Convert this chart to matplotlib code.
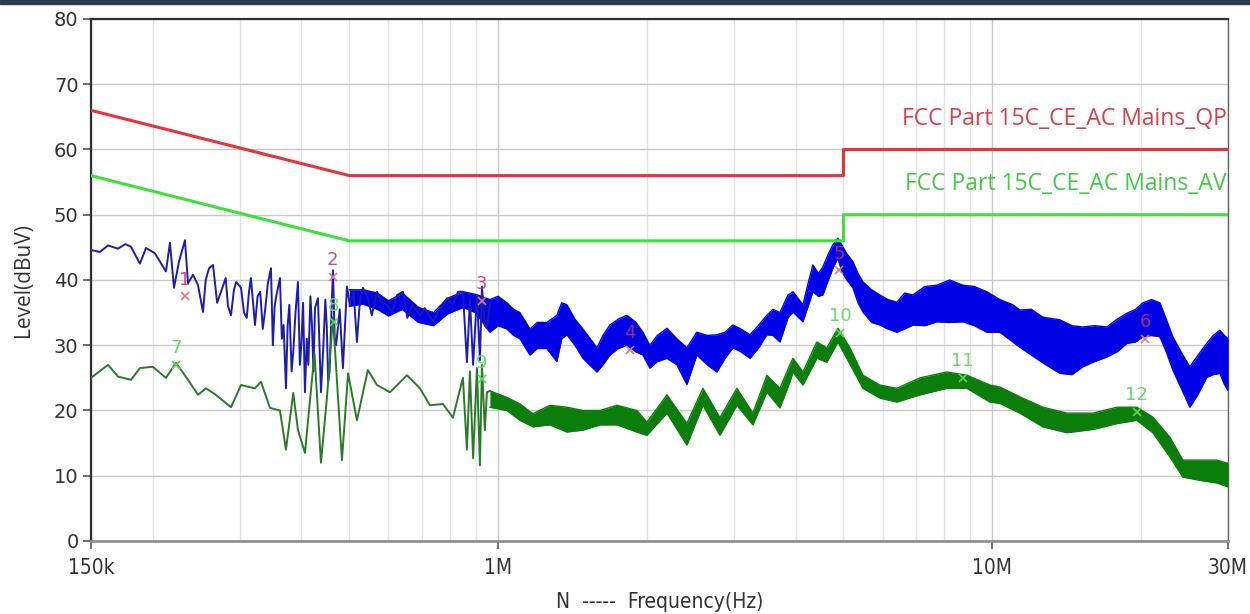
import matplotlib
matplotlib.use("Agg")
import matplotlib.pyplot as plt
from matplotlib.patches import Rectangle

# ---------------- data (frequency in MHz, level in dBuV) ----------------
# limit lines
qp_limit_freq = [0.15, 0.5, 5.0, 5.0, 30.0]
qp_limit_level = [66, 56, 56, 60, 60]
av_limit_freq = [0.15, 0.5, 5.0, 5.0, 30.0]
av_limit_level = [56, 46, 46, 50, 50]

# peak (blue) trace, low-frequency part (single line with spikes)
peak_line_freq = [0.150, 0.1564, 0.1624, 0.1701, 0.176, 0.1807, 0.1884, 0.1938, 0.2020, 0.2127,
                  0.2167, 0.2208, 0.226, 0.2324, 0.2357, 0.2413, 0.247, 0.2528, 0.256, 0.260,
                  0.2649, 0.270, 0.2749, 0.281, 0.284, 0.2880, 0.292, 0.295, 0.3018, 0.306,
                  0.310, 0.313, 0.316, 0.3221, 0.326, 0.330, 0.334, 0.338, 0.342, 0.3470,
                  0.350, 0.353, 0.356, 0.3618, 0.365, 0.368, 0.3721, 0.375, 0.378, 0.382,
                  0.385, 0.389, 0.3935, 0.397, 0.400, 0.403, 0.4065, 0.410, 0.413, 0.417,
                  0.420, 0.423, 0.426, 0.4319, 0.435, 0.4380, 0.443, 0.447, 0.450, 0.453,
                  0.456, 0.460, 0.4632, 0.467, 0.470, 0.478, 0.4852, 0.4944, 0.5014, 0.510,
                  0.5179, 0.525, 0.5326, 0.545, 0.555, 0.5687, 0.580, 0.5957, 0.610, 0.625,
                  0.6419, 0.655, 0.670, 0.6948, 0.710, 0.7381, 0.755, 0.7878, 0.8101, 0.830,
                  0.8487, 0.8647, 0.8769, 0.890, 0.906, 0.9188, 0.9274, 0.940, 0.9492, 0.9626]
peak_line_level = [44.6, 44.3, 45.3, 44.8, 45.5, 45.1, 42.5, 44.9, 44.1, 41.3,
                   45.7, 38.8, 42.8, 46.1, 39.5, 40.8, 39.2, 35.1, 40.0, 41.8,
                   42.3, 36.5, 38.2, 40.3, 36.0, 34.6, 38.5, 39.7, 38.8, 35.0,
                   34.2, 38.0, 40.3, 33.1, 37.5, 38.2, 32.5, 35.7, 39.5, 41.8,
                   30.0, 36.0, 37.7, 40.3, 31.0, 33.1, 23.4, 33.0, 36.2, 26.0,
                   29.0, 35.0, 39.7, 27.0, 30.5, 36.5, 22.8, 31.0, 27.0, 37.5,
                   33.1, 26.0, 35.7, 37.2, 30.0, 22.8, 30.0, 37.0, 33.0, 24.5,
                   26.0, 35.0, 41.5, 31.0, 30.0, 35.5, 26.5, 39.0, 36.0, 38.2,
                   30.5, 36.6, 38.8, 37.2, 34.6, 38.2, 36.6, 36.2, 35.1, 37.7,
                   38.2, 34.2, 36.2, 34.6, 35.7, 33.6, 35.1, 37.2, 36.2, 38.2,
                   38.2, 27.4, 37.0, 27.0, 37.7, 27.7, 39.0, 33.0, 32.6, 36.5]

# peak (blue) trace, dense part: upper / lower envelope
peak_band_freq = [0.50, 0.533, 0.57, 0.60, 0.64, 0.69, 0.74, 0.79, 0.85, 0.90,
                  0.9626, 1.00, 1.042, 1.075, 1.107, 1.160, 1.200, 1.255, 1.315, 1.345,
                  1.378, 1.43, 1.485, 1.585, 1.63, 1.684, 1.75, 1.822, 1.90, 1.963,
                  2.028, 2.10, 2.196, 2.30, 2.410, 2.525, 2.65, 2.772, 2.88, 2.986,
                  3.10, 3.233, 3.36, 3.499, 3.60, 3.718, 3.860, 3.951, 4.139, 4.24,
                  4.336, 4.45, 4.542, 4.66, 4.759, 4.871, 4.95, 5.08, 5.225, 5.35,
                  5.474, 5.70, 5.925, 6.15, 6.413, 6.65, 6.909, 7.30, 7.725, 8.20,
                  8.722, 9.20, 9.752, 10.36, 11.01, 11.37, 12.0, 12.66, 13.70, 14.5,
                  15.25, 16.1, 17.06, 17.9, 18.73, 19.5, 20.17, 21.0, 21.84, 22.5,
                  23.20, 24.1, 25.11, 26.1, 27.18, 28.0, 28.88, 29.5, 30.0]
peak_band_hi = [38.5, 38.5, 38.0, 36.8, 38.0, 35.8, 35.0, 37.2, 38.2, 37.8,
                37.0, 37.5, 36.5, 35.5, 35.0, 32.5, 33.5, 33.5, 34.6, 36.5,
                36.2, 34.0, 32.5, 29.6, 31.5, 33.1, 34.0, 34.6, 33.5, 32.0,
                30.0, 31.5, 32.6, 31.0, 29.6, 32.0, 31.5, 31.6, 32.0, 33.1,
                32.5, 31.6, 33.0, 34.6, 35.5, 35.0, 37.7, 38.2, 36.2, 39.5,
                42.3, 41.0, 42.0, 44.0, 45.4, 46.4, 45.5, 44.0, 42.8, 41.0,
                39.7, 38.5, 37.7, 37.0, 36.6, 38.0, 37.7, 39.0, 39.2, 40.0,
                39.2, 39.0, 38.2, 37.0, 36.2, 35.4, 35.5, 34.3, 33.9, 33.0,
                32.8, 33.0, 32.8, 34.0, 34.9, 35.5, 36.5, 37.0, 36.5, 34.0,
                31.3, 29.0, 26.7, 28.5, 30.3, 31.5, 32.3, 31.5, 31.0]
peak_band_lo = [36.0, 36.3, 35.5, 34.5, 35.5, 33.5, 33.0, 34.8, 35.8, 35.0,
                32.0, 33.0, 32.5, 31.5, 31.0, 28.5, 29.5, 29.5, 27.5, 31.0,
                31.6, 30.0, 28.0, 25.9, 27.0, 28.5, 29.5, 30.0, 29.0, 28.5,
                26.5, 27.5, 28.0, 27.0, 24.0, 28.5, 27.0, 25.9, 28.0, 29.6,
                29.0, 28.0, 29.5, 31.6, 31.5, 30.5, 34.2, 35.1, 33.6, 36.0,
                38.2, 37.5, 37.7, 40.0, 41.8, 43.4, 41.5, 40.0, 38.8, 36.5,
                35.1, 33.5, 33.1, 32.5, 32.0, 32.5, 33.1, 33.0, 33.6, 33.5,
                33.6, 33.0, 32.0, 32.0, 30.5, 29.7, 28.5, 27.3, 25.7, 25.5,
                26.7, 27.5, 28.2, 29.0, 30.3, 30.5, 31.3, 31.5, 31.3, 29.0,
                26.2, 23.5, 20.5, 22.5, 25.1, 25.5, 25.7, 24.0, 23.1]

# average (green) trace, low-frequency part (single line)
avg_line_freq = [0.150, 0.1624, 0.1701, 0.1807, 0.1884, 0.2000, 0.2127, 0.2229, 0.2357, 0.2470,
                 0.2563, 0.2673, 0.2880, 0.3018, 0.3221, 0.3312, 0.3454, 0.3618, 0.3721, 0.3850,
                 0.3935, 0.4065, 0.4250, 0.4380, 0.4504, 0.4632, 0.4830, 0.4970, 0.5179, 0.5450,
                 0.5687, 0.6041, 0.6540, 0.6948, 0.7279, 0.7733, 0.8101, 0.8487, 0.8647, 0.8769,
                 0.8900, 0.9060, 0.9188, 0.9274, 0.9400, 0.9492, 0.9626]
avg_line_level = [25.0, 27.0, 25.2, 24.7, 26.5, 26.7, 25.0, 27.3, 24.7, 22.4,
                  23.4, 22.5, 20.5, 23.9, 23.4, 24.4, 20.4, 20.0, 14.0, 22.7,
                  17.0, 13.5, 28.8, 12.0, 22.0, 34.3, 12.4, 25.7, 18.5, 26.2,
                  23.9, 22.8, 25.4, 23.4, 20.8, 21.0, 18.9, 25.0, 14.0, 26.0,
                  12.7, 26.5, 11.6, 27.0, 17.0, 22.8, 23.0]

# average (green) trace, dense part: upper / lower envelope
avg_band_freq = [0.9626, 1.042, 1.107, 1.176, 1.273, 1.378, 1.485, 1.607, 1.740, 1.909,
                 2.000, 2.196, 2.410, 2.597, 2.811, 3.043, 3.278, 3.499, 3.718, 3.895,
                 3.951, 4.139, 4.416, 4.627, 4.871, 5.153, 5.474, 5.925, 6.413, 7.139,
                 8.094, 8.887, 9.889, 10.36, 11.37, 12.66, 14.16, 15.98, 17.88, 19.62,
                 21.13, 22.88, 24.31, 26.31, 28.48, 30.0]
avg_band_hi = [23.0, 22.0, 21.0, 19.5, 20.8, 20.5, 20.0, 20.0, 20.8, 20.0,
               18.2, 22.4, 18.0, 23.4, 18.9, 23.4, 19.6, 25.4, 23.4, 27.0,
               28.0, 25.9, 30.5, 29.6, 32.6, 29.6, 25.4, 23.9, 23.4, 25.0,
               25.9, 25.4, 23.9, 23.6, 22.1, 20.5, 19.6, 19.6, 20.5, 20.5,
               19.0, 15.9, 12.4, 12.4, 12.4, 11.9]
avg_band_lo = [20.5, 20.0, 18.5, 17.5, 17.8, 16.7, 17.0, 17.8, 17.8, 16.7,
               16.2, 19.6, 14.7, 20.8, 16.2, 20.8, 17.8, 22.8, 20.4, 24.4,
               25.9, 23.9, 28.0, 27.4, 30.5, 27.1, 23.4, 21.9, 21.3, 22.4,
               23.4, 23.4, 21.3, 21.1, 19.6, 17.5, 16.6, 17.1, 18.0, 18.5,
               16.6, 12.9, 9.8, 9.3, 8.9, 8.3]

# markers
qp_marker_labels = ["1", "2", "3", "4", "5", "6"]
qp_marker_freq = [0.232, 0.463, 0.927, 1.848, 4.90, 20.4]
qp_marker_level = [37.5, 40.5, 36.8, 29.3, 41.5, 31.0]
av_marker_labels = ["7", "8", "9", "10", "11", "12"]
av_marker_freq = [0.223, 0.465, 0.927, 4.92, 8.72, 19.6]
av_marker_level = [27.0, 33.5, 24.8, 31.9, 25.0, 19.8]

x_ticks = [0.15, 1, 10, 30]
x_tick_labels = ["150k", "1M", "10M", "30M"]
x_minor = [0.2, 0.3, 0.4, 0.5, 0.6, 0.7, 0.8, 0.9, 2, 3, 4, 5, 6, 7, 8, 9, 20]
y_ticks = [0, 10, 20, 30, 40, 50, 60, 70, 80]

qp_limit_name = "FCC Part 15C_CE_AC Mains_QP"
av_limit_name = "FCC Part 15C_CE_AC Mains_AV"

# ---------------- drawing ----------------
fig = plt.figure(figsize=(12.5, 6.14), dpi=100)
fig.patch.set_facecolor("white")
fig.add_artist(Rectangle((0, 0.994), 1, 0.006, transform=fig.transFigure,
                         color="#2b3a4f", zorder=10))
ax = fig.add_axes([91 / 1250, 1 - 541 / 614, (1228 - 91) / 1250, (541 - 19) / 614])

ax.set_xscale("log")
ax.set_xlim(0.15, 30)
ax.set_ylim(0, 80)

ax.set_xticks(x_ticks)
ax.set_xticklabels(x_tick_labels)
ax.set_xticks(x_minor, minor=True)
ax.set_xticklabels([], minor=True)
ax.set_yticks(y_ticks)

ax.grid(True, which="major", axis="both", color="#c8c8c8", lw=1.0)
ax.grid(True, which="minor", axis="x", color="#e2e2e2", lw=1.0)
ax.set_axisbelow(True)

ax.tick_params(axis="x", which="minor", length=0)
ax.tick_params(axis="x", which="major", length=6, width=1.2, color="#555555", pad=6)
ax.tick_params(axis="y", which="major", length=6, width=1.2, color="#555555", pad=3)
for lab in ax.get_xticklabels():
    lab.set_family(["DejaVu Sans"])
    lab.set_stretch("condensed")
    lab.set_fontsize(15)
    lab.set_color("#333333")
for lab in ax.get_yticklabels():
    lab.set_family(["DejaVu Sans"])
    lab.set_fontsize(14)
    lab.set_color("#333333")

for side in ["left", "top"]:
    ax.spines[side].set_color("#303030")
    ax.spines[side].set_linewidth(1.6)
ax.spines["right"].set_color("#606060")
ax.spines["right"].set_linewidth(1.0)
ax.spines["bottom"].set_color("#909090")
ax.spines["bottom"].set_linewidth(2.0)

# traces
blue = "#0000e6"
green = "#0a7d0a"
ax.fill_between(peak_band_freq, peak_band_lo, peak_band_hi, color=blue, lw=0, zorder=3)
ax.plot(peak_band_freq, peak_band_hi, color=blue, lw=1.0, zorder=3)
ax.plot(peak_band_freq, peak_band_lo, color=blue, lw=1.0, zorder=3)
ax.plot(peak_line_freq, peak_line_level, color="#1c1cb0", lw=1.4, zorder=3)

ax.fill_between(avg_band_freq, avg_band_lo, avg_band_hi, color=green, lw=0, zorder=3)
ax.plot(avg_band_freq, avg_band_hi, color=green, lw=1.0, zorder=3)
ax.plot(avg_band_freq, avg_band_lo, color=green, lw=1.0, zorder=3)
ax.plot(avg_line_freq, avg_line_level, color="#2a7a2a", lw=1.4, zorder=3)

# limits
ax.plot(qp_limit_freq, qp_limit_level, color="#e8323c", lw=2.2, zorder=4)
ax.plot(av_limit_freq, av_limit_level, color="#3de03d", lw=2.2, zorder=4)
ax.text(29.8, qp_limit_level[-1] + 4.7, qp_limit_name, color="#d9404a",
        fontsize=16.5, family=["Open Sans", "DejaVu Sans"], ha="right", va="center", zorder=5)
ax.text(29.8, av_limit_level[-1] + 4.7, av_limit_name, color="#45c845",
        fontsize=16.5, family=["Open Sans", "DejaVu Sans"], ha="right", va="center", zorder=5)

# markers
for lab, f, v in zip(qp_marker_labels, qp_marker_freq, qp_marker_level):
    ax.plot(f, v, marker="x", ms=6, mew=1.2, color="#e07a80", ls="none", zorder=6)
    ax.annotate(lab, (f, v), xytext=(0, 12), textcoords="offset points", ha="center",
                va="center", color="#c0306a", fontsize=13, alpha=0.85, zorder=6)
for lab, f, v in zip(av_marker_labels, av_marker_freq, av_marker_level):
    ax.plot(f, v, marker="x", ms=6, mew=1.2, color="#5ad65a", ls="none", zorder=6)
    ax.annotate(lab, (f, v), xytext=(0, 12), textcoords="offset points", ha="center",
                va="center", color="#66dd66", fontsize=13, zorder=6)

ax.set_ylabel("Level(dBuV)", fontsize=15, color="#333333",
              family=["Open Sans", "DejaVu Sans"], labelpad=14)
ax.set_xlabel("N  -----  Frequency(Hz)", fontsize=15, color="#333333",
              family=["DejaVu Sans"], fontstretch="condensed", labelpad=10)

fig.savefig("out.png", dpi=100, facecolor="white")
